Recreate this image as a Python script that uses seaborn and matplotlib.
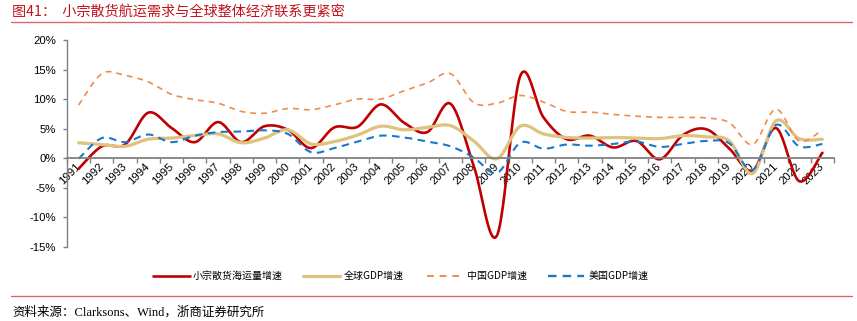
import numpy as np
import pandas as pd
import matplotlib
matplotlib.use("Agg")
import matplotlib.pyplot as plt
from matplotlib.lines import Line2D
from matplotlib.ticker import FixedLocator, NullFormatter
import seaborn as sns

# ---------------- data ----------------
years = [str(y) for y in range(1991, 2024)]
minor_bulk = [-1.8, 2.0, 2.3, 7.7, 5.1, 2.7, 6.1, 2.7, 5.4, 4.8, 1.7, 5.2, 5.3, 9.1, 6.0,
              4.4, 9.2, -1.3, -13.1, 13.9, 6.9, 3.2, 3.8, 1.8, 2.9, -0.2, 3.9, 4.9, 1.6,
              -2.1, 5.1, -3.9, 0.9]
world_gdp = [2.6, 2.3, 2.0, 3.2, 3.4, 3.8, 4.1, 2.6, 3.4, 4.8, 2.4, 2.8, 3.9, 5.4, 4.8,
             5.2, 5.5, 2.9, -0.1, 5.4, 4.1, 3.5, 3.4, 3.5, 3.4, 3.3, 3.8, 3.6, 2.9,
             -2.6, 6.3, 3.3, 3.2]
china_gdp = [9.0, 14.3, 14.0, 12.9, 10.8, 9.9, 9.3, 7.9, 7.6, 8.4, 8.2, 9.0, 10.0, 10.0,
             11.4, 12.7, 14.3, 9.4, 9.3, 10.6, 9.5, 7.9, 7.8, 7.4, 7.1, 6.9, 6.9, 6.8,
             6.0, 2.3, 8.3, 2.9, 4.8]
us_gdp = [-0.1, 3.4, 2.7, 4.0, 2.7, 3.8, 4.4, 4.5, 4.7, 4.1, 1.0, 1.7, 2.8, 3.8, 3.5,
          2.8, 2.0, 0.1, -2.5, 2.6, 1.6, 2.3, 2.1, 2.4, 2.8, 1.9, 2.4, 2.9, 2.5, -2.0,
          5.6, 2.0, 2.4]
series_names = ["小宗散货海运量增速", "全球GDP增速", "中国GDP增速", "美国GDP增速"]
y_ticks = [-15, -10, -5, 0, 5, 10, 15, 20]
y_tick_labels = ["-15%", "-10%", "-5%", "0%", "5%", "10%", "15%", "20%"]
title = "图41：  小宗散货航运需求与全球整体经济联系更紧密"
source = "资料来源：Clarksons、Wind，浙商证券研究所"


def smooth(values, n=24):
    """Excel-like smoothed line (Bezier through the points)."""
    pts = np.column_stack([np.arange(len(values), dtype=float), np.asarray(values, float)])
    out = []
    m = len(pts)
    for i in range(m - 1):
        p0, p3 = pts[i], pts[i + 1]
        pm = pts[i - 1] if i > 0 else pts[i]
        pp = pts[i + 2] if i + 2 < m else pts[i + 1]
        c1 = p0 + (p3 - pm) / 6.0
        c2 = p3 - (pp - p0) / 6.0
        t = np.linspace(0, 1, n, endpoint=(i == m - 2))[:, None]
        b = ((1 - t) ** 3) * p0 + 3 * ((1 - t) ** 2) * t * c1 + 3 * (1 - t) * t ** 2 * c2 + t ** 3 * p3
        out.append(b)
    return np.vstack(out)


sns.set_theme(style="white")
plt.rcParams['font.family'] = ['Liberation Sans', 'Noto Sans CJK SC']

W, H = 857, 321
fig = plt.figure(figsize=(W / 100, H / 100), dpi=100)
ax = fig.add_axes([67 / W, 1 - 246.7 / H, (834 - 67) / W, (246.7 - 40) / H])
ax.set_facecolor("none")

styles = [
    dict(color="#C00000", lw=1.9, dash=None),
    dict(color="#DEC27E", lw=2.3, dash=None),
    dict(color="#F28A4A", lw=1.2, dash=(3.5, 3.0)),
    dict(color="#1878CC", lw=1.5, dash=(3.6, 2.6)),
]
for name, vals, st in zip(series_names, [minor_bulk, world_gdp, china_gdp, us_gdp], styles):
    s = smooth(vals)
    df = pd.DataFrame({"x": s[:, 0], "y": s[:, 1]})
    sns.lineplot(data=df, x="x", y="y", ax=ax, sort=False, estimator=None,
                 color=st["color"], linewidth=st["lw"])
    ln = ax.lines[-1]
    ln.set_solid_capstyle("round")
    if st["dash"] is not None:
        ln.set_dashes(st["dash"])
        ln.set_dash_capstyle("butt")

ax.set_xlim(-0.5, len(years) - 0.5)
ax.set_ylim(-15, 20)
ax.set_xlabel("")
ax.set_ylabel("")

# spines
gray = "#808080"
for sp in ["top", "right"]:
    ax.spines[sp].set_visible(False)
ax.spines["left"].set_color(gray)
ax.spines["left"].set_linewidth(1.0)
ax.spines["bottom"].set_position(("data", 0))
ax.spines["bottom"].set_color(gray)
ax.spines["bottom"].set_linewidth(1.3)

ax.set_yticks(y_ticks)
ax.set_yticklabels(y_tick_labels)
ax.tick_params(axis="y", direction="out", length=3, width=1, color=gray, pad=5,
               labelsize=8.2, labelcolor="#000000", left=True)

ax.set_xticks(range(len(years)))
ax.set_xticklabels(years)
ax.xaxis.set_minor_locator(FixedLocator(np.arange(-0.5, len(years), 1.0)))
ax.xaxis.set_minor_formatter(NullFormatter())
ax.tick_params(axis="x", which="major", length=0, pad=5, labelsize=8.2, labelcolor="#000000")
ax.tick_params(axis="x", which="minor", direction="out", length=3.5, width=1, color=gray, bottom=True)
for lab in ax.get_xticklabels():
    lab.set_rotation(45)
    lab.set_ha("right")
    lab.set_va("center")
    lab.set_rotation_mode("anchor")
ax.grid(False)

# title and header/footer rules
fig.text(12 / W, 1 - 12 / H, title, color="#C0141E", fontsize=10.2, va="center", ha="left",
         family=["Noto Sans CJK SC", "DejaVu Sans"])
fig.add_artist(Line2D([11 / W, 852 / W], [1 - 21.8 / H] * 2, color="#E06666", lw=1.0))
fig.add_artist(Line2D([11 / W, 852 / W], [1 - 295.8 / H] * 2, color="#E06666", lw=1.0))
fig.text(12 / W, 1 - 312 / H, source, color="#000000", fontsize=9.0, va="center", ha="left",
         family=["Liberation Serif", "Noto Sans CJK SC"])

# legend (manual placement)
ly = 1 - 275.7 / H
leg = [(153, 190, 193), (303, 340, 344), (427, 463, 467), (548, 584, 589)]
for (x0, x1, xt), name, st in zip(leg, series_names, styles):
    l = Line2D([x0 / W, x1 / W], [ly, ly], color=st["color"], lw=st["lw"] if st["dash"] is None else st["lw"] + 0.2)
    if st["dash"] is not None:
        l.set_dashes(st["dash"])
    fig.add_artist(l)
    fig.text(xt / W, ly, name, fontsize=7.2, va="center", ha="left",
             family=["Noto Sans CJK SC", "DejaVu Sans"], color="#000000")

fig.savefig("out.png", dpi=100)
